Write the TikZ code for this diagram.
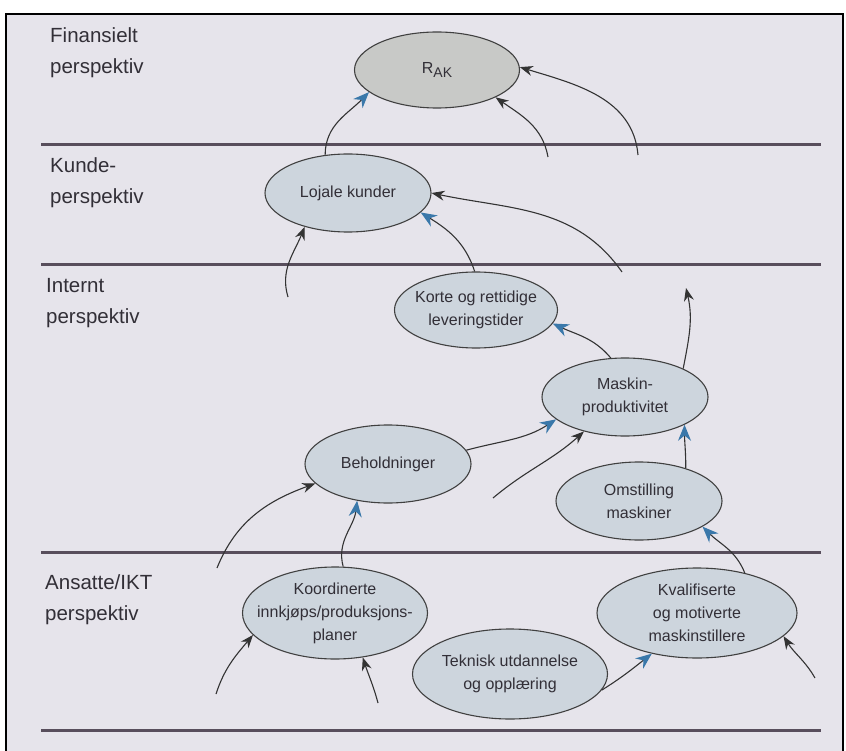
\documentclass[tikz,border=0pt]{standalone}
\usepackage{fontspec}
\setmainfont{Liberation Sans}
\usetikzlibrary{shapes.geometric,arrows.meta}

\definecolor{bakgrunn}{RGB}{230,228,235}
\definecolor{boblefarge}{RGB}{205,213,221}
\definecolor{rakfarge}{RGB}{200,201,199}
\definecolor{strek}{RGB}{88,78,92}
\definecolor{blaa}{RGB}{58,120,170}
\definecolor{skrift}{RGB}{50,47,55}

\tikzset{
  boble/.style={ellipse, draw=black!75, line width=1.1pt, fill=boblefarge, inner sep=0pt,
    minimum width=166pt, minimum height=78pt},
  stor/.style={minimum width=190pt, minimum height=91pt},
  tekst/.style={align=center, text=skrift, inner sep=0pt, font=\fontsize{16}{23}\selectfont},
  lag/.style={anchor=north west, align=left, text=skrift, inner sep=0pt,
    font=\fontsize{20.5}{31}\selectfont},
  skille/.style={strek, line width=3pt},
  pil/.style={black!80, line width=1.1pt, -{Stealth[length=13pt,width=10pt]}},
  blapil/.style={black!80, line width=1.1pt, -{Stealth[length=16pt,width=13pt,color=blaa]}}
}

\begin{document}
\begin{tikzpicture}[x=1pt,y=1pt]
  \useasboundingbox (0,0) rectangle (846,-751);
  \fill[bakgrunn] (6,-14) rectangle (843,-751);
  \draw[line width=2.5pt] (6,-751) |- (843,-14) -- (843,-751);

  % Lines
  \foreach \y in {145,265,552,730}
    \draw[skille] (41,-\y) -- (821,-\y);

  % Perspectives
  \node[lag] (finans) at (50,-27) {Finansielt\\perspektiv};
  \node[lag] (kunde) at (50,-157) {Kunde-\\perspektiv};
  \node[lag] (internt) at (46,-278) {Internt\\perspektiv};
  \node[lag] (ansatte) at (45,-574) {Ansatte/IKT\\perspektiv};

  % Nodes
  \node[boble, fill=rakfarge, minimum width=165pt, minimum height=76pt,
    label={[tekst]center:{R\raisebox{-4.5pt}{\fontsize{14}{14}\selectfont AK}}}] (rak) at (437,-70) {};
  \node[boble, label={[tekst]center:{Lojale kunder}}] (lojale) at (348,-193) {};
  \node[boble, minimum width=163pt, minimum height=76pt,
    label={[tekst]center:{Korte og rettidige\\leveringstider}}] (korte) at (476,-310) {};
  \node[boble, label={[tekst]center:{Maskin-\\produktivitet}}] (maskin) at (625,-397) {};
  \node[boble, label={[tekst]center:{Beholdninger}}] (behold) at (388,-464) {};
  \node[boble, label={[tekst]center:{Omstilling\\maskiner}}] (omst) at (639,-501) {};
  \node[boble, stor, minimum width=185pt, minimum height=92pt,
    label={[tekst]center:{Koordinerte\\innkjøps/produksjons-\\planer}}] (koord) at (335,-613) {};
  \node[boble, stor, minimum width=200pt, minimum height=90pt,
    label={[tekst]center:{Kvalifiserte\\og motiverte\\maskinstillere}}] (kval) at (697,-613) {};
  \node[boble, stor, minimum width=195pt, minimum height=90pt,
    label={[tekst]center:{Teknisk utdannelse\\og opplæring}}] (tekn) at (510,-674) {};

  % Loose ends
  \coordinate (fri1) at (548,-157);
  \coordinate (fri2) at (638,-155);
  \coordinate (fri3) at (288,-297);
  \coordinate (fri4) at (622,-272);
  \coordinate (fri5) at (686,-288);
  \coordinate (fri6) at (493,-498);
  \coordinate (fri7) at (217,-568);
  \coordinate (fri8) at (216,-694);
  \coordinate (fri9) at (378,-703);
  \coordinate (fri10) at (815,-678);

  % Edges
  \foreach \fra/\til/\ut/\inn in {lojale.121/rak.198/90/226, korte.92/lojale.-15/108/-32,
      maskin.110/korte.-10/130/-25, behold.10/maskin.198/15/213, omst.35/maskin.-25/90/-90,
      koord.80/behold.230/105/-97, kval.40/omst.-22/112/-45, tekn.-10/kval.222/32/218}
    \draw[blapil] (\fra) to[out=\ut,in=\inn] (\til);

  \foreach \fra/\til/\ut/\inn in {fri1/rak.-25/100/-35, fri2/rak.2/95/-17, fri3/lojale.218/107/248,
      fri4/lojale.0/125/-12, maskin.26/fri5/79/-77, fri6/maskin.220/40/222, fri7/behold.195/68/200,
      fri8/koord.195/72/230, fri9/koord.-58/105/-72, fri10/kval.-15/120/-58}
    \draw[pil] (\fra) to[out=\ut,in=\inn] (\til);
\end{tikzpicture}
\end{document}
